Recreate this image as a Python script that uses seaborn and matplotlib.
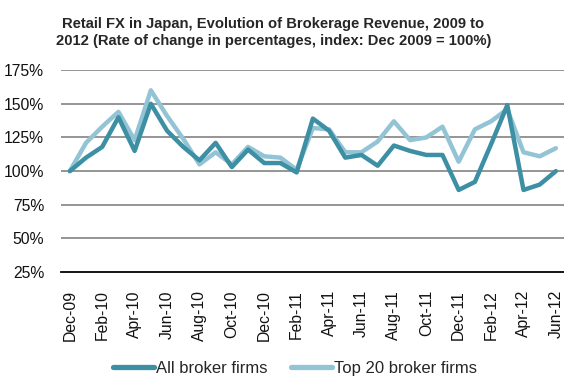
import matplotlib
matplotlib.use("Agg")
import matplotlib.pyplot as plt
import seaborn as sns
import pandas as pd
from matplotlib.lines import Line2D

months = ["Dec-09", "Jan-10", "Feb-10", "Mar-10", "Apr-10", "May-10", "Jun-10", "Jul-10",
          "Aug-10", "Sep-10", "Oct-10", "Nov-10", "Dec-10", "Jan-11", "Feb-11", "Mar-11",
          "Apr-11", "May-11", "Jun-11", "Jul-11", "Aug-11", "Sep-11", "Oct-11", "Nov-11",
          "Dec-11", "Jan-12", "Feb-12", "Mar-12", "Apr-12", "May-12", "Jun-12"]
all_brokers = [100, 110, 118, 140, 115, 150, 130, 118, 108, 121, 103, 116, 106, 106, 99,
               139, 130, 110, 112, 104, 119, 115, 112, 112, 86, 92, 120, 149, 86, 90, 100]
top20 = [100, 121, 133, 144, 123, 160, 141, 124, 105, 114, 105, 118, 111, 110, 101,
         132, 131, 114, 114, 122, 137, 123, 125, 133, 107, 131, 137, 146, 114, 111, 117]
series_names = ["All broker firms", "Top 20 broker firms"]
yticks = [25, 50, 75, 100, 125, 150, 175]

df = pd.DataFrame({"idx": list(range(len(months))) * 2,
                   "value": all_brokers + top20,
                   "series": [series_names[0]] * len(months) + [series_names[1]] * len(months)})

sns.set_theme(style="white")
plt.rcParams['font.family'] = ['Liberation Sans', 'DejaVu Sans']

fig = plt.figure(figsize=(5.64, 3.79), dpi=100)
ax = fig.add_axes([0.108, 0.282, 0.892, 0.533])

for y in yticks[1:]:
    ax.axhline(y, color="#8c8c8c", lw=1.3, zorder=0)

dark, light = "#3d8fa3", "#93c4d5"
sns.lineplot(data=df, x="idx", y="value", hue="series",
             palette={series_names[0]: dark, series_names[1]: light},
             hue_order=[series_names[1], series_names[0]],
             lw=3.2, ax=ax, legend=False)

ax.set_xlim(-0.55, 30.5)
ax.set_ylim(25, 175)
ax.set_yticks(yticks)
ax.set_yticklabels([f"{v}%" for v in yticks], fontsize=11.3, color="#111111")
ax.set_xticks(range(0, len(months), 2))
ax.set_xticklabels(months[::2], rotation=90, fontsize=11.3, color="#111111")
ax.tick_params(axis="x", pad=13, length=0)
ax.tick_params(axis="y", pad=12, length=0)
ax.set_xlabel("")
ax.set_ylabel("")
for s in ["top", "right", "left"]:
    ax.spines[s].set_visible(False)
ax.spines["bottom"].set_color("black")
ax.spines["bottom"].set_linewidth(1.3)

handles = [Line2D([], [], color=dark, lw=3.8), Line2D([], [], color=light, lw=3.8)]
fig.legend(handles, series_names, loc="center", bbox_to_anchor=(0.523, 0.028), ncol=2,
           frameon=False, fontsize=12, handlelength=2.45, handletextpad=0.12,
           columnspacing=1.4)

fig.text(0.485, 0.955, "Retail FX in Japan, Evolution of Brokerage Revenue, 2009 to\n"
         "2012 (Rate of change in percentages, index: Dec 2009 = 100%)",
         ha="center", va="top", fontsize=10.6, fontweight="bold", linespacing=1.25)

fig.savefig("out.png", dpi=100)
